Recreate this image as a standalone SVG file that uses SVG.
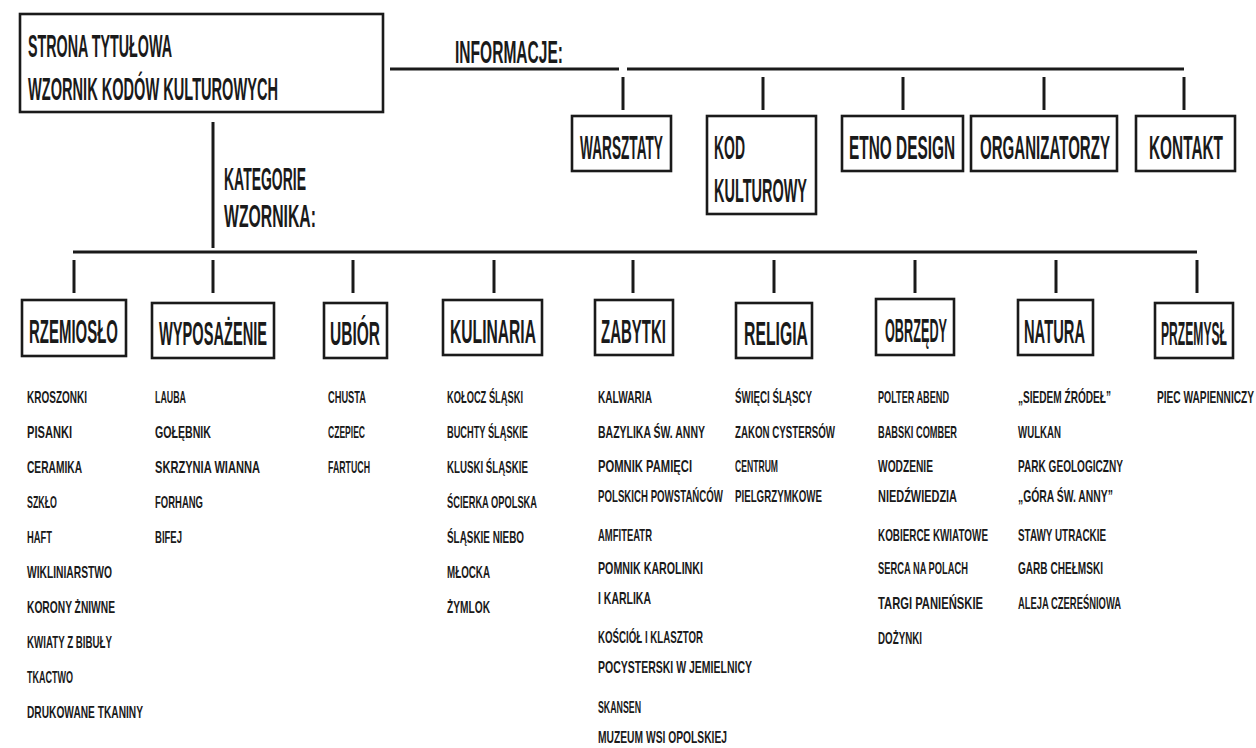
<svg xmlns="http://www.w3.org/2000/svg" width="1256" height="748" viewBox="0 0 1256 748">
<style>
.bx{fill:none;stroke:#1a1a1a;stroke-width:2.6}
.ln{stroke:#1a1a1a;stroke-width:3;fill:none}
text{font-family:"Liberation Sans","DejaVu Sans",sans-serif;fill:#1a1a1a}
.h{font-size:31px;font-weight:bold}
.c{font-size:33px;font-weight:bold}
.li{font-size:16.5px;font-weight:bold}
</style>
<rect width="1256" height="748" fill="#ffffff"/>
<g id="connectors">
<line class="ln" x1="390" y1="69" x2="619" y2="69"/>
<line class="ln" x1="627" y1="69" x2="1184" y2="69"/>
<line class="ln" x1="623" y1="77" x2="623" y2="110"/>
<line class="ln" x1="763" y1="77" x2="763" y2="110"/>
<line class="ln" x1="903" y1="77" x2="903" y2="110"/>
<line class="ln" x1="1044" y1="77" x2="1044" y2="110"/>
<line class="ln" x1="1184" y1="77" x2="1184" y2="110"/>
<line class="ln" x1="213" y1="122" x2="213" y2="248"/>
<line class="ln" x1="73" y1="252" x2="1197" y2="252"/>
<line class="ln" x1="74" y1="260" x2="74" y2="293"/>
<line class="ln" x1="213" y1="260" x2="213" y2="293"/>
<line class="ln" x1="353" y1="260" x2="353" y2="293"/>
<line class="ln" x1="494" y1="260" x2="494" y2="293"/>
<line class="ln" x1="633" y1="260" x2="633" y2="293"/>
<line class="ln" x1="774" y1="260" x2="774" y2="293"/>
<line class="ln" x1="915" y1="260" x2="915" y2="293"/>
<line class="ln" x1="1056" y1="260" x2="1056" y2="293"/>
<line class="ln" x1="1197" y1="260" x2="1197" y2="293"/>
</g>
<g id="title">
<rect class="bx" x="20" y="14" width="363" height="98"/>
<text class="h" transform="translate(28 57) scale(.45 1)" textLength="320" lengthAdjust="spacingAndGlyphs">STRONA TYTUŁOWA</text>
<text class="h" transform="translate(28 100) scale(.45 1)" textLength="555.6" lengthAdjust="spacingAndGlyphs">WZORNIK KODÓW KULTUROWYCH</text>
</g>
<g id="informacje-label"><text class="h" transform="translate(455 63) scale(.45 1)" textLength="240" lengthAdjust="spacingAndGlyphs">INFORMACJE:</text></g>
<g id="kategorie-label">
<text class="h" transform="translate(224 190) scale(.45 1)" textLength="182.2" lengthAdjust="spacingAndGlyphs">KATEGORIE</text>
<text class="h" transform="translate(224 227) scale(.45 1)" textLength="204.4" lengthAdjust="spacingAndGlyphs">WZORNIKA:</text>
</g>
<g id="warsztaty"><rect class="bx" x="572" y="116" width="99" height="55"/><text class="c" transform="translate(580 159) scale(.45 1)" textLength="184.4" lengthAdjust="spacingAndGlyphs">WARSZTATY</text></g>
<g id="kod"><rect class="bx" x="707" y="116" width="109" height="98"/><text class="c" transform="translate(714 159) scale(.45 1)" textLength="68.9" lengthAdjust="spacingAndGlyphs">KOD</text><text class="c" transform="translate(714 202) scale(.45 1)" textLength="206.7" lengthAdjust="spacingAndGlyphs">KULTUROWY</text></g>
<g id="etno"><rect class="bx" x="842" y="116" width="121" height="55"/><text class="c" transform="translate(849 159) scale(.45 1)" textLength="235.6" lengthAdjust="spacingAndGlyphs">ETNO DESIGN</text></g>
<g id="organizatorzy"><rect class="bx" x="971" y="116" width="146" height="55"/><text class="c" transform="translate(980 159) scale(.45 1)" textLength="288.9" lengthAdjust="spacingAndGlyphs">ORGANIZATORZY</text></g>
<g id="kontakt"><rect class="bx" x="1136" y="116" width="99" height="55"/><text class="c" transform="translate(1149 159) scale(.45 1)" textLength="164.4" lengthAdjust="spacingAndGlyphs">KONTAKT</text></g>
<g id="rzemioslo"><rect class="bx" x="22" y="300" width="104" height="56"/><text class="c" transform="translate(29 343) scale(.45 1)" textLength="197.8" lengthAdjust="spacingAndGlyphs">RZEMIOSŁO</text>
<text class="li" transform="translate(27 403) scale(.6 1)" textLength="100" lengthAdjust="spacingAndGlyphs">KROSZONKI</text>
<text class="li" transform="translate(27 438) scale(.6 1)" textLength="75" lengthAdjust="spacingAndGlyphs">PISANKI</text>
<text class="li" transform="translate(27 473) scale(.6 1)" textLength="91.7" lengthAdjust="spacingAndGlyphs">CERAMIKA</text>
<text class="li" transform="translate(27 508) scale(.6 1)" textLength="50" lengthAdjust="spacingAndGlyphs">SZKŁO</text>
<text class="li" transform="translate(27 543) scale(.6 1)" textLength="41.7" lengthAdjust="spacingAndGlyphs">HAFT</text>
<text class="li" transform="translate(27 578) scale(.6 1)" textLength="141.7" lengthAdjust="spacingAndGlyphs">WIKLINIARSTWO</text>
<text class="li" transform="translate(27 613) scale(.6 1)" textLength="146.7" lengthAdjust="spacingAndGlyphs">KORONY ŻNIWNE</text>
<text class="li" transform="translate(27 648) scale(.6 1)" textLength="141.7" lengthAdjust="spacingAndGlyphs">KWIATY Z BIBUŁY</text>
<text class="li" transform="translate(27 683) scale(.6 1)" textLength="76.7" lengthAdjust="spacingAndGlyphs">TKACTWO</text>
<text class="li" transform="translate(27 718) scale(.6 1)" textLength="193.3" lengthAdjust="spacingAndGlyphs">DRUKOWANE TKANINY</text>
</g>
<g id="wyposazenie"><rect class="bx" x="152" y="303" width="122" height="55"/><text class="c" transform="translate(159 345) scale(.45 1)" textLength="240" lengthAdjust="spacingAndGlyphs">WYPOSAŻENIE</text>
<text class="li" transform="translate(155 403) scale(.6 1)" textLength="51.7" lengthAdjust="spacingAndGlyphs">LAUBA</text>
<text class="li" transform="translate(155 438) scale(.6 1)" textLength="93.3" lengthAdjust="spacingAndGlyphs">GOŁĘBNIK</text>
<text class="li" transform="translate(155 473) scale(.6 1)" textLength="175" lengthAdjust="spacingAndGlyphs">SKRZYNIA WIANNA</text>
<text class="li" transform="translate(155 508) scale(.6 1)" textLength="80" lengthAdjust="spacingAndGlyphs">FORHANG</text>
<text class="li" transform="translate(155 543) scale(.6 1)" textLength="45" lengthAdjust="spacingAndGlyphs">BIFEJ</text>
</g>
<g id="ubior"><rect class="bx" x="324" y="303" width="63" height="55"/><text class="c" transform="translate(330 345) scale(.45 1)" textLength="111.1" lengthAdjust="spacingAndGlyphs">UBIÓR</text>
<text class="li" transform="translate(328 403) scale(.6 1)" textLength="63.3" lengthAdjust="spacingAndGlyphs">CHUSTA</text>
<text class="li" transform="translate(328 438) scale(.6 1)" textLength="61.7" lengthAdjust="spacingAndGlyphs">CZEPIEC</text>
<text class="li" transform="translate(328 473) scale(.6 1)" textLength="70" lengthAdjust="spacingAndGlyphs">FARTUCH</text>
</g>
<g id="kulinaria"><rect class="bx" x="443" y="300" width="99" height="55"/><text class="c" transform="translate(450 343) scale(.45 1)" textLength="191.1" lengthAdjust="spacingAndGlyphs">KULINARIA</text>
<text class="li" transform="translate(447 403) scale(.6 1)" textLength="126.7" lengthAdjust="spacingAndGlyphs">KOŁOCZ ŚLĄSKI</text>
<text class="li" transform="translate(447 438) scale(.6 1)" textLength="135" lengthAdjust="spacingAndGlyphs">BUCHTY ŚLĄSKIE</text>
<text class="li" transform="translate(447 473) scale(.6 1)" textLength="135" lengthAdjust="spacingAndGlyphs">KLUSKI ŚLĄSKIE</text>
<text class="li" transform="translate(447 508) scale(.6 1)" textLength="150" lengthAdjust="spacingAndGlyphs">ŚCIERKA OPOLSKA</text>
<text class="li" transform="translate(447 543) scale(.6 1)" textLength="128.3" lengthAdjust="spacingAndGlyphs">ŚLĄSKIE NIEBO</text>
<text class="li" transform="translate(447 578) scale(.6 1)" textLength="71.7" lengthAdjust="spacingAndGlyphs">MŁOCKA</text>
<text class="li" transform="translate(447 613) scale(.6 1)" textLength="71.7" lengthAdjust="spacingAndGlyphs">ŻYMLOK</text>
</g>
<g id="zabytki"><rect class="bx" x="595" y="300" width="78" height="55"/><text class="c" transform="translate(601 343) scale(.45 1)" textLength="144.4" lengthAdjust="spacingAndGlyphs">ZABYTKI</text>
<text class="li" transform="translate(598 403) scale(.6 1)" textLength="90" lengthAdjust="spacingAndGlyphs">KALWARIA</text>
<text class="li" transform="translate(598 438) scale(.6 1)" textLength="178.3" lengthAdjust="spacingAndGlyphs">BAZYLIKA ŚW. ANNY</text>
<text class="li" transform="translate(598 472) scale(.6 1)" textLength="156.7" lengthAdjust="spacingAndGlyphs">POMNIK PAMIĘCI</text>
<text class="li" transform="translate(598 502) scale(.6 1)" textLength="208.3" lengthAdjust="spacingAndGlyphs">POLSKICH POWSTAŃCÓW</text>
<text class="li" transform="translate(598 541) scale(.6 1)" textLength="90" lengthAdjust="spacingAndGlyphs">AMFITEATR</text>
<text class="li" transform="translate(598 574) scale(.6 1)" textLength="175" lengthAdjust="spacingAndGlyphs">POMNIK KAROLINKI</text>
<text class="li" transform="translate(598 604) scale(.6 1)" textLength="88.3" lengthAdjust="spacingAndGlyphs">I KARLIKA</text>
<text class="li" transform="translate(598 643) scale(.6 1)" textLength="175" lengthAdjust="spacingAndGlyphs">KOŚCIÓŁ I KLASZTOR</text>
<text class="li" transform="translate(598 673) scale(.6 1)" textLength="256.7" lengthAdjust="spacingAndGlyphs">POCYSTERSKI W JEMIELNICY</text>
<text class="li" transform="translate(598 713) scale(.6 1)" textLength="71.7" lengthAdjust="spacingAndGlyphs">SKANSEN</text>
<text class="li" transform="translate(598 743) scale(.6 1)" textLength="215" lengthAdjust="spacingAndGlyphs">MUZEUM WSI OPOLSKIEJ</text>
</g>
<g id="religia"><rect class="bx" x="736" y="303" width="76" height="55"/><text class="c" transform="translate(744 345) scale(.45 1)" textLength="142.2" lengthAdjust="spacingAndGlyphs">RELIGIA</text>
<text class="li" transform="translate(735 403) scale(.6 1)" textLength="128.3" lengthAdjust="spacingAndGlyphs">ŚWIĘCI ŚLĄSCY</text>
<text class="li" transform="translate(735 438) scale(.6 1)" textLength="166.7" lengthAdjust="spacingAndGlyphs">ZAKON CYSTERSÓW</text>
<text class="li" transform="translate(735 472) scale(.6 1)" textLength="71.7" lengthAdjust="spacingAndGlyphs">CENTRUM</text>
<text class="li" transform="translate(735 502) scale(.6 1)" textLength="145" lengthAdjust="spacingAndGlyphs">PIELGRZYMKOWE</text>
</g>
<g id="obrzedy"><rect class="bx" x="876" y="299" width="78" height="56"/><text class="c" transform="translate(885 342) scale(.45 1)" textLength="137.8" lengthAdjust="spacingAndGlyphs">OBRZĘDY</text>
<text class="li" transform="translate(878 403) scale(.6 1)" textLength="118.3" lengthAdjust="spacingAndGlyphs">POLTER ABEND</text>
<text class="li" transform="translate(878 438) scale(.6 1)" textLength="131.7" lengthAdjust="spacingAndGlyphs">BABSKI COMBER</text>
<text class="li" transform="translate(878 472) scale(.6 1)" textLength="91.7" lengthAdjust="spacingAndGlyphs">WODZENIE</text>
<text class="li" transform="translate(878 502) scale(.6 1)" textLength="131.7" lengthAdjust="spacingAndGlyphs">NIEDŹWIEDZIA</text>
<text class="li" transform="translate(878 541) scale(.6 1)" textLength="183.3" lengthAdjust="spacingAndGlyphs">KOBIERCE KWIATOWE</text>
<text class="li" transform="translate(878 574) scale(.6 1)" textLength="150" lengthAdjust="spacingAndGlyphs">SERCA NA POLACH</text>
<text class="li" transform="translate(878 609) scale(.6 1)" textLength="175" lengthAdjust="spacingAndGlyphs">TARGI PANIEŃSKIE</text>
<text class="li" transform="translate(878 644) scale(.6 1)" textLength="73.3" lengthAdjust="spacingAndGlyphs">DOŻYNKI</text>
</g>
<g id="natura"><rect class="bx" x="1018" y="300" width="75" height="55"/><text class="c" transform="translate(1024 343) scale(.45 1)" textLength="135.6" lengthAdjust="spacingAndGlyphs">NATURA</text>
<text class="li" transform="translate(1018 403) scale(.6 1)" textLength="155" lengthAdjust="spacingAndGlyphs">„SIEDEM ŹRÓDEŁ”</text>
<text class="li" transform="translate(1018 438) scale(.6 1)" textLength="71.7" lengthAdjust="spacingAndGlyphs">WULKAN</text>
<text class="li" transform="translate(1018 472) scale(.6 1)" textLength="175" lengthAdjust="spacingAndGlyphs">PARK GEOLOGICZNY</text>
<text class="li" transform="translate(1018 502) scale(.6 1)" textLength="158.3" lengthAdjust="spacingAndGlyphs">„GÓRA ŚW. ANNY”</text>
<text class="li" transform="translate(1018 541) scale(.6 1)" textLength="146.7" lengthAdjust="spacingAndGlyphs">STAWY UTRACKIE</text>
<text class="li" transform="translate(1018 574) scale(.6 1)" textLength="141.7" lengthAdjust="spacingAndGlyphs">GARB CHEŁMSKI</text>
<text class="li" transform="translate(1018 609) scale(.6 1)" textLength="171.7" lengthAdjust="spacingAndGlyphs">ALEJA CZEREŚNIOWA</text>
</g>
<g id="przemysl"><rect class="bx" x="1155" y="303" width="78" height="55"/><text class="c" transform="translate(1161 345) scale(.45 1)" textLength="146.7" lengthAdjust="spacingAndGlyphs">PRZEMYSŁ</text>
<text class="li" transform="translate(1157 403) scale(.6 1)" textLength="161.7" lengthAdjust="spacingAndGlyphs">PIEC WAPIENNICZY</text>
</g>
</svg>
